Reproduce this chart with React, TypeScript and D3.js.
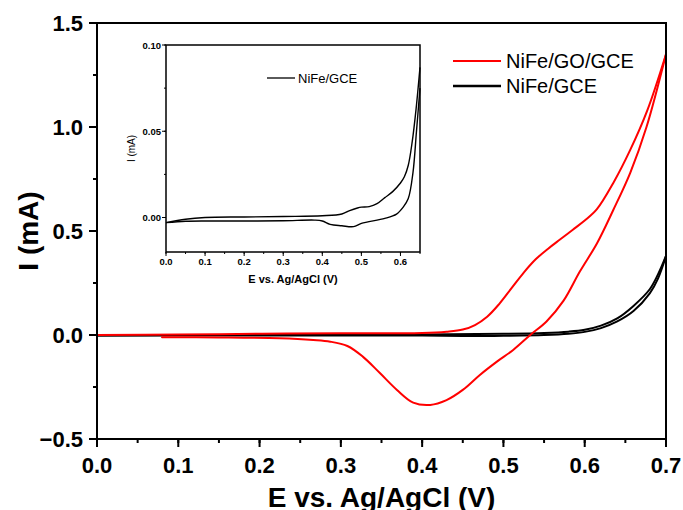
import React from "react";
import * as d3 from "d3";

// NiFe/GO/GCE cyclic voltammogram: anodic (forward) and cathodic (reverse) branches
const goForwardE = [0.0, 0.1, 0.2, 0.3, 0.4, 0.43, 0.45, 0.465, 0.48, 0.495, 0.51, 0.525, 0.54, 0.555, 0.57, 0.585, 0.6, 0.615, 0.635, 0.656, 0.677, 0.7];
const goForwardI = [0.0, 0.002, 0.006, 0.008, 0.01, 0.016, 0.026, 0.048, 0.088, 0.15, 0.225, 0.3, 0.365, 0.415, 0.46, 0.505, 0.55, 0.605, 0.73, 0.89, 1.08, 1.35];
const goReverseE = [0.7, 0.676, 0.656, 0.635, 0.615, 0.594, 0.574, 0.553, 0.533, 0.512, 0.492, 0.471, 0.45, 0.43, 0.41, 0.389, 0.369, 0.348, 0.327, 0.308, 0.287, 0.266, 0.225, 0.15, 0.08];
const goReverseI = [1.35, 1.0, 0.78, 0.6, 0.44, 0.305, 0.165, 0.065, 0.0, -0.072, -0.128, -0.192, -0.264, -0.313, -0.336, -0.325, -0.264, -0.183, -0.104, -0.053, -0.032, -0.024, -0.016, -0.012, -0.011];

// NiFe/GCE cyclic voltammogram
const bareForwardE = [0.0, 0.1, 0.2, 0.3, 0.4, 0.5, 0.55, 0.58, 0.6, 0.62, 0.64, 0.66, 0.68, 0.69, 0.7];
const bareForwardI = [-0.003, 0.0, 0.0, 0.001, 0.002, 0.006, 0.01, 0.016, 0.025, 0.045, 0.08, 0.14, 0.22, 0.29, 0.38];
const bareReverseE = [0.7, 0.69, 0.68, 0.66, 0.64, 0.62, 0.6, 0.58, 0.55, 0.5, 0.48, 0.45, 0.4, 0.3, 0.2, 0.1, 0.0];
const bareReverseI = [0.38, 0.27, 0.2, 0.115, 0.065, 0.033, 0.015, 0.006, 0.0, -0.004, -0.005, -0.005, -0.002, -0.002, -0.002, -0.002, -0.003];

// Inset: NiFe/GCE on an expanded current scale
const insetForwardE = [0.0, 0.05, 0.1, 0.2, 0.3, 0.4, 0.45, 0.47, 0.49, 0.5, 0.52, 0.54, 0.56, 0.58, 0.6, 0.61, 0.62, 0.63, 0.64, 0.65];
const insetForwardI = [-0.003, -0.001, 0.0, 0.0003, 0.0006, 0.001, 0.002, 0.004, 0.0055, 0.006, 0.0063, 0.008, 0.0115, 0.015, 0.02, 0.0236, 0.0303, 0.0438, 0.063, 0.087];
const insetReverseE = [0.65, 0.641, 0.632, 0.62, 0.607, 0.59, 0.56, 0.5, 0.48, 0.45, 0.42, 0.4, 0.38, 0.3, 0.2, 0.1, 0.05, 0.0];
const insetReverseI = [0.075, 0.05, 0.026, 0.011, 0.006, 0.002, -0.0005, -0.0034, -0.0053, -0.0048, -0.004, -0.002, -0.0015, -0.0019, -0.002, -0.002, -0.0022, -0.003];

const mainXTicks = [0, 0.1, 0.2, 0.3, 0.4, 0.5, 0.6, 0.7];
const mainYTicks = [-0.5, 0, 0.5, 1.0, 1.5];
const insetXTicks = [0, 0.1, 0.2, 0.3, 0.4, 0.5, 0.6];
const insetYTicks = [0, 0.05, 0.1];

const legendLabels = ["NiFe/GO/GCE", "NiFe/GCE"];
const insetLegendLabel = "NiFe/GCE";

const FONT = "'Liberation Sans', Arial, Helvetica, sans-serif";

function pts(xs: number[], ys: number[]): [number, number][] {
  return xs.map((x, i) => [x, ys[i]] as [number, number]);
}

export default function App() {
  const W = 683;
  const H = 510;

  // main plot frame
  const L = 97, R = 666, T = 23, B = 439;
  const x = d3.scaleLinear().domain([0, 0.7]).range([L, R]);
  const y = d3.scaleLinear().domain([-0.5, 1.5]).range([B, T]);
  const line = d3
    .line<[number, number]>()
    .x((d) => x(d[0]))
    .y((d) => y(d[1]))
    .curve(d3.curveCatmullRom.alpha(0.5));

  // inset frame
  const iL = 166, iR = 420, iT = 45, iB = 252;
  const ix = d3.scaleLinear().domain([0, 0.65]).range([iL, iR]);
  const iy = d3.scaleLinear().domain([-0.02, 0.1]).range([iB, iT]);
  const iline = d3
    .line<[number, number]>()
    .x((d) => ix(d[0]))
    .y((d) => iy(d[1]))
    .curve(d3.curveCatmullRom.alpha(0.5));

  const xMinor = d3.range(0, 0.7001, 0.05);
  const yMinor = d3.range(-0.5, 1.5001, 0.25);
  const ixMinor = d3.range(0, 0.6501, 0.05);
  const iyMinor = d3.range(0, 0.1001, 0.025);

  const fmtMain = d3.format(".1f");
  const fmtInsetX = d3.format(".1f");
  const fmtInsetY = d3.format(".2f");

  return (
    <svg width={W} height={H} style={{ position: "absolute", left: 0, top: 0 }}>
      <rect x={0} y={0} width={W} height={H} fill="#ffffff" />

      {/* main curves */}
      <g fill="none" strokeLinejoin="round" strokeLinecap="round">
        <path d={line(pts(bareForwardE, bareForwardI)) || ""} stroke="#000" strokeWidth={2} />
        <path d={line(pts(bareReverseE, bareReverseI)) || ""} stroke="#000" strokeWidth={2} />
        <path d={line(pts(goForwardE, goForwardI)) || ""} stroke="#ff0000" strokeWidth={2} />
        <path d={line(pts(goReverseE, goReverseI)) || ""} stroke="#ff0000" strokeWidth={2} />
      </g>

      {/* main frame */}
      <rect x={L} y={T} width={R - L} height={B - T} fill="none" stroke="#000" strokeWidth={2} />

      {/* axis ticks */}
      <g stroke="#000" strokeWidth={2}>
        {xMinor.map((v, i) => (
          <line key={"xm" + i} x1={x(v)} x2={x(v)} y1={B} y2={B + 4} />
        ))}
        {mainXTicks.map((v) => (
          <line key={"xM" + v} x1={x(v)} x2={x(v)} y1={B} y2={B + 8} />
        ))}
        {yMinor.map((v, i) => (
          <line key={"ym" + i} x1={L - 4} x2={L} y1={y(v)} y2={y(v)} />
        ))}
        {mainYTicks.map((v) => (
          <line key={"yM" + v} x1={L - 8} x2={L} y1={y(v)} y2={y(v)} />
        ))}
      </g>
      <g fontFamily={FONT} fontWeight="bold" fontSize={22} fill="#000">
        {mainXTicks.map((v) => (
          <text key={"xl" + v} x={x(v)} y={473} textAnchor="middle">
            {fmtMain(v)}
          </text>
        ))}
        {mainYTicks.map((v) => (
          <text key={"yl" + v} x={83} y={y(v) + 8} textAnchor="end">
            {fmtMain(v)}
          </text>
        ))}
      </g>
      <text
        x={(L + R) / 2}
        y={507}
        textAnchor="middle"
        fontFamily={FONT}
        fontWeight="bold"
        fontSize={28}
      >
        E vs. Ag/AgCl (V)
      </text>
      <text
        transform={`translate(38, ${(T + B) / 2}) rotate(-90)`}
        textAnchor="middle"
        fontFamily={FONT}
        fontWeight="bold"
        fontSize={28}
      >
        I (mA)
      </text>

      {/* legend */}
      <g fontFamily={FONT} fontSize={20}>
        <line x1={453} x2={501} y1={61} y2={61} stroke="#ff0000" strokeWidth={2} />
        <text x={506} y={68}>{legendLabels[0]}</text>
        <line x1={453} x2={501} y1={86} y2={86} stroke="#000" strokeWidth={2.5} />
        <text x={506} y={93}>{legendLabels[1]}</text>
      </g>

      {/* inset */}
      <rect x={iL} y={iT} width={iR - iL} height={iB - iT} fill="#fff" />
      <g fill="none" strokeLinejoin="round">
        <path d={iline(pts(insetForwardE, insetForwardI)) || ""} stroke="#000" strokeWidth={1.4} />
        <path d={iline(pts(insetReverseE, insetReverseI)) || ""} stroke="#000" strokeWidth={1.4} />
      </g>
      <rect x={iL} y={iT} width={iR - iL} height={iB - iT} fill="none" stroke="#000" strokeWidth={1.5} />
      <g stroke="#000" strokeWidth={1}>
        {ixMinor.map((v, i) => (
          <line key={"ixm" + i} x1={ix(v)} x2={ix(v)} y1={iB} y2={iB + 2} />
        ))}
        {insetXTicks.map((v) => (
          <line key={"ixM" + v} x1={ix(v)} x2={ix(v)} y1={iB} y2={iB + 4} />
        ))}
        {iyMinor.map((v, i) => (
          <line key={"iym" + i} x1={iL - 2} x2={iL} y1={iy(v)} y2={iy(v)} />
        ))}
        {insetYTicks.map((v) => (
          <line key={"iyM" + v} x1={iL - 4} x2={iL} y1={iy(v)} y2={iy(v)} />
        ))}
      </g>
      <g fontFamily={FONT} fontWeight="bold" fontSize={9.5} fill="#000">
        {insetXTicks.map((v) => (
          <text key={"ixl" + v} x={ix(v)} y={265} textAnchor="middle">
            {fmtInsetX(v)}
          </text>
        ))}
        {insetYTicks.map((v) => (
          <text key={"iyl" + v} x={161} y={iy(v) + 3.5} textAnchor="end">
            {fmtInsetY(v)}
          </text>
        ))}
      </g>
      <text
        x={(iL + iR) / 2}
        y={283}
        textAnchor="middle"
        fontFamily={FONT}
        fontWeight="bold"
        fontSize={11}
      >
        E vs. Ag/AgCl (V)
      </text>
      <text
        transform={`translate(135, ${(iT + iB) / 2}) rotate(-90)`}
        textAnchor="middle"
        fontFamily={FONT}
        fontSize={10}
      >
        I (mA)
      </text>
      <line x1={267} x2={295} y1={78} y2={78} stroke="#000" strokeWidth={1.3} />
      <text x={298} y={83} fontFamily={FONT} fontSize={13}>
        {insetLegendLabel}
      </text>
    </svg>
  );
}
